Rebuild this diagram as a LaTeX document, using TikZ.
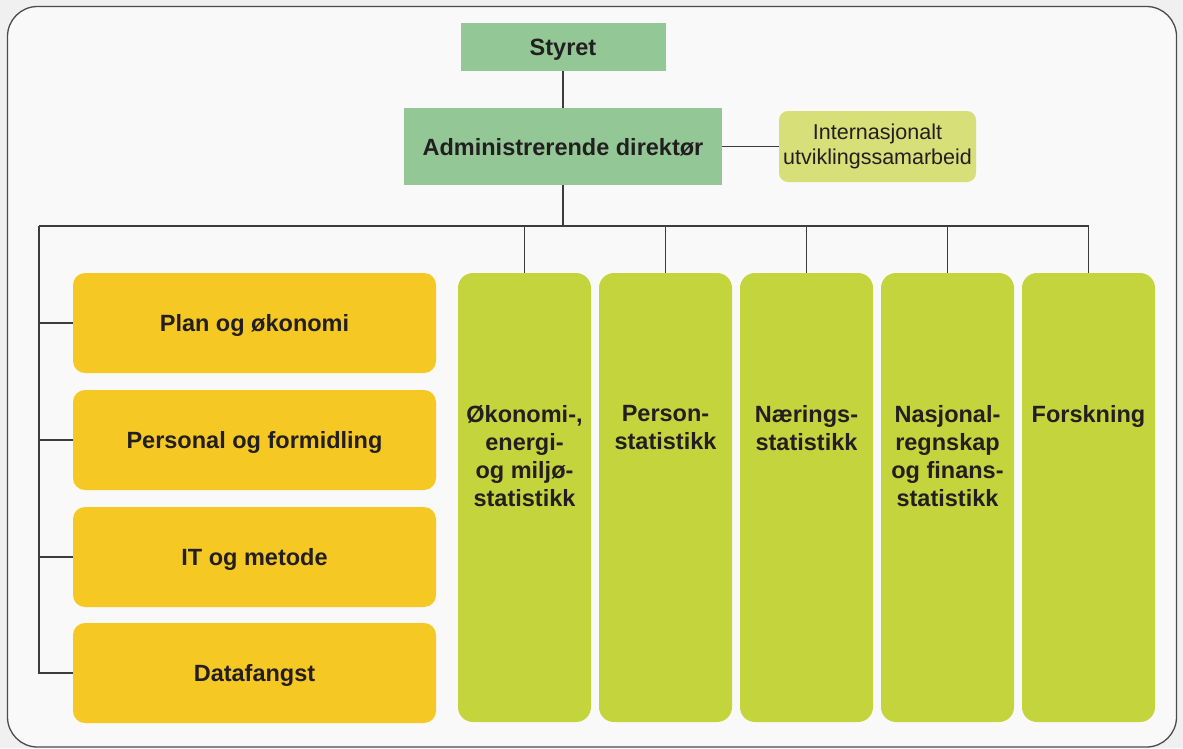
\documentclass[tikz,border=0pt]{standalone}
\usepackage{fontspec}
\setmainfont{Liberation Sans}
\usetikzlibrary{positioning}
\definecolor{pagebg}{HTML}{EFF0EF}
\definecolor{framebg}{HTML}{F8F9F8}
\definecolor{framegray}{HTML}{4B4B4B}
\definecolor{wiregray}{HTML}{3C3C3C}
\definecolor{inktext}{HTML}{231F20}
\definecolor{leadgreen}{HTML}{93C796}
\definecolor{intlgreen}{HTML}{D6DF78}
\definecolor{staffyellow}{HTML}{F5C823}
\definecolor{deptlime}{HTML}{C4D43C}
\tikzset{
    box/.style={inner sep=0pt, outer sep=0pt, align=center, text=inktext,
      font=\bfseries\fontsize{23.5}{28}\selectfont},
    lead/.style={box, fill=leadgreen, text depth=0pt},
    staff/.style={box, fill=staffyellow, rounded corners=12pt, text depth=0pt,
      minimum width=363pt, minimum height=100pt},
    dept/.style={box, fill=deptlime, rounded corners=15pt,
      minimum width=133pt, minimum height=449pt},
    deptlabel/.style={anchor=north, yshift=-132pt, inner sep=0pt, align=center,
      text=inktext, font=\bfseries\fontsize{23.5}{28}\selectfont},
    intl/.style={box, fill=intlgreen, rounded corners=9pt,
      font=\fontsize{21.5}{25}\selectfont, minimum width=197pt, minimum height=71pt},
    wire/.style={draw=wiregray, line width=1.4pt},
}
\begin{document}
\begin{tikzpicture}[x=1pt, y=-1pt]
    \fill[pagebg] (0,0) rectangle (1183,748);
    \useasboundingbox (0,0) rectangle (1183,748);
    \draw[framegray, fill=framebg, line width=1.3pt, rounded corners=30pt] (7.5,6.5) rectangle (1176.5,747);

    \node[lead, minimum width=318pt, minimum height=77pt] (admin) at (563,146.5) {Administrerende direktør};
    \node[lead, minimum width=205pt, minimum height=48pt, above=37pt of admin] (styret) {Styret};
    \node[intl, right=57pt of admin] (intl) {Internasjonalt\\utviklingssamarbeid};

    \node[staff] (plan) at (254.5,323) {Plan og økonomi};
    \node[staff, below=17pt of plan] (personal) {Personal og formidling};
    \node[staff, below=17pt of personal] (it) {IT og metode};
    \node[staff, below=16pt of it] (datafangst) {Datafangst};

    \node[dept, label={[deptlabel]north:Økonomi-,\\energi-\\og miljø-\\statistikk}] (oekonomi) at (524.5,497.5) {};
    \node[dept, right=8pt of oekonomi, label={[deptlabel]north:Person-\\statistikk}] (person) {};
    \node[dept, right=8pt of person, label={[deptlabel]north:Nærings-\\statistikk}] (naering) {};
    \node[dept, right=8pt of naering, label={[deptlabel]north:Nasjonal-\\regnskap\\og finans-\\statistikk}] (nasjonal) {};
    \node[dept, right=8pt of nasjonal, label={[deptlabel]north:Forskning}] (forskning) {};

    \coordinate (busL) at (39,226);
    \draw[wire] (styret) -- (admin);
    \draw[wire] (admin) -- (intl);
    \draw[wire] (admin.south) -- (admin.south |- busL);
    \draw[wire] (busL) -| (forskning.north);
    \foreach \d in {oekonomi, person, naering, nasjonal}
      \draw[wire] (\d.north) -- (\d.north |- busL);
    \foreach \s in {plan, personal, it}
      \draw[wire] (\s.west) -- (\s.west -| busL);
    \draw[wire] (busL) |- (datafangst.west);
\end{tikzpicture}
\end{document}
